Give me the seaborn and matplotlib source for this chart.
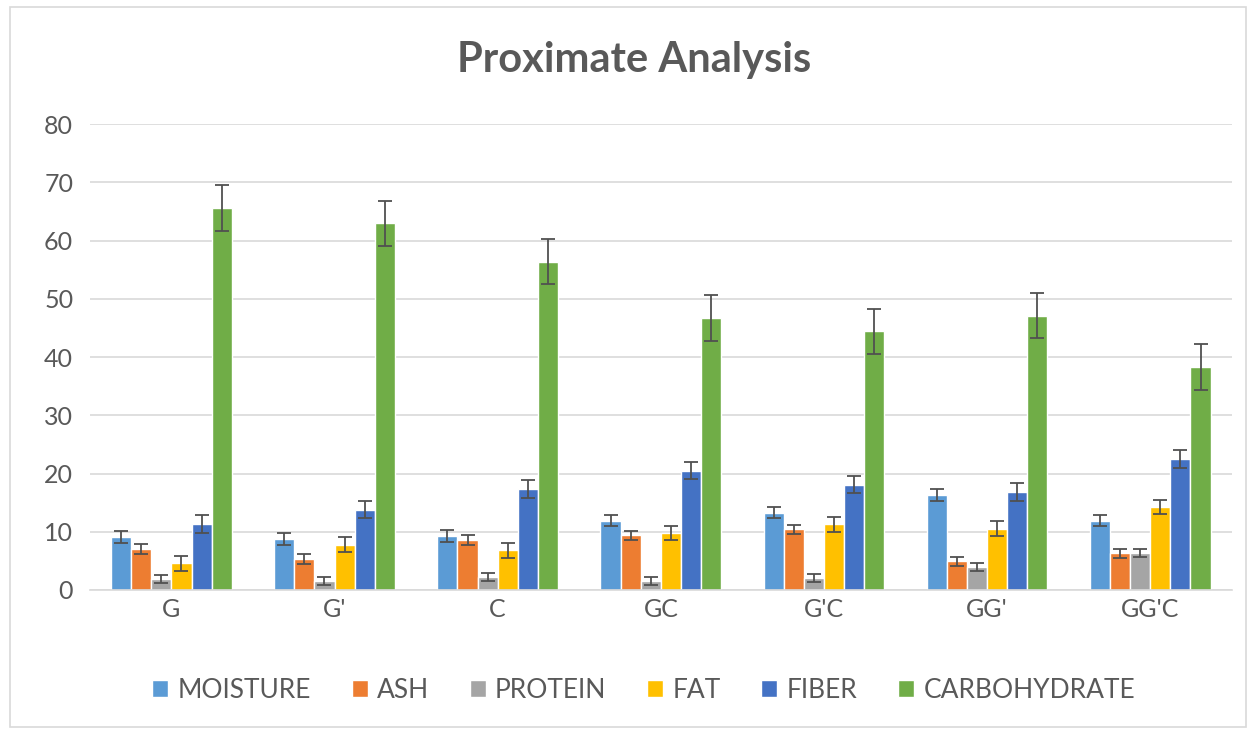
import matplotlib
matplotlib.use("Agg")
import matplotlib.pyplot as plt
import seaborn as sns
import pandas as pd
import numpy as np

categories = ["G", "G'", "C", "GC", "G'C", "GG'", "GG'C"]
series = ["MOISTURE", "ASH", "PROTEIN", "FAT", "FIBER", "CARBOHYDRATE"]
moisture = [9.1, 8.8, 9.3, 11.9, 13.3, 16.3, 11.9]
ash = [7.0, 5.3, 8.6, 9.4, 10.4, 4.9, 6.3]
protein = [1.9, 1.6, 2.2, 1.6, 2.1, 3.9, 6.3]
fat = [4.6, 7.8, 6.8, 9.8, 11.3, 10.5, 14.3]
fiber = [11.3, 13.8, 17.3, 20.5, 18.1, 16.8, 22.5]
carbohydrate = [65.6, 63.0, 56.4, 46.7, 44.4, 47.1, 38.3]
err_moisture = [1.0, 1.0, 1.0, 1.0, 1.0, 1.0, 1.0]
err_ash = [0.9, 0.9, 0.8, 0.8, 0.8, 0.8, 0.8]
err_protein = [0.7, 0.7, 0.7, 0.7, 0.7, 0.7, 0.7]
err_fat = [1.3, 1.3, 1.3, 1.2, 1.3, 1.3, 1.2]
err_fiber = [1.5, 1.5, 1.5, 1.5, 1.5, 1.5, 1.5]
err_carb = [3.9, 3.9, 3.9, 3.9, 3.9, 3.9, 3.9]
colors = ["#5B9BD5", "#ED7D31", "#A5A5A5", "#FFC000", "#4472C4", "#70AD47"]

values = [moisture, ash, protein, fat, fiber, carbohydrate]
errors = [err_moisture, err_ash, err_protein, err_fat, err_fiber, err_carb]

rows = []
for s, vals, errs in zip(series, values, errors):
    for c, v, e in zip(categories, vals, errs):
        rows.append({"cat": c, "series": s, "value": v, "err": e})
df = pd.DataFrame(rows)

sns.set_theme(style="white")
plt.rcParams["font.family"] = ["Lato", "DejaVu Sans"]

fig = plt.figure(figsize=(12.48, 7.31), dpi=100)
ax = fig.add_axes([0.072, 0.193, 0.915, 0.637])

sns.barplot(data=df, x="cat", y="value", hue="series", order=categories,
            hue_order=series, palette=colors, width=0.74, errorbar=None,
            ax=ax, saturation=1, legend=True)

# error bars positioned on the library-drawn bars
for container, s in zip(ax.containers, series):
    sub = df[df.series == s].set_index("cat").loc[categories]
    xs = [p.get_x() + p.get_width() / 2 for p in container.patches]
    hs = [p.get_height() for p in container.patches]
    ax.errorbar(xs, hs, yerr=sub["err"].values, fmt="none", ecolor="#505050",
                elinewidth=1.3, capsize=5, capthick=1.3, zorder=5)

ax.set_ylim(0, 80)
ax.set_yticks(range(0, 81, 10))
ax.set_xlim(-0.5, len(categories) - 0.5)
ax.grid(axis="y", color="#D9D9D9", linewidth=1.2)
ax.set_axisbelow(True)
for side in ["left", "right", "top"]:
    ax.spines[side].set_visible(False)
ax.spines["bottom"].set_color("#D9D9D9")
ax.spines["bottom"].set_linewidth(1.2)
ax.tick_params(axis="both", length=0, labelsize=18, labelcolor="#595959", pad=12)
ax.tick_params(axis="x", pad=6)
ax.set_xlabel("")
ax.set_ylabel("")

leg = ax.legend(loc="center", bbox_to_anchor=(0.485, -0.215), ncol=6,
                frameon=False, fontsize=19, handlelength=0.6, handleheight=0.6,
                handletextpad=0.35, columnspacing=1.55)
for t in leg.get_texts():
    t.set_color("#595959")

fig.text(0.508, 0.918, "Proximate Analysis", ha="center", va="center",
         fontsize=30, fontweight="bold", color="#595959")

# outer chart frame
frame = plt.Rectangle((0.008, 0.005), 0.99, 0.985, transform=fig.transFigure,
                      fill=False, edgecolor="#D9D9D9", linewidth=1.2)
fig.patches.append(frame)

fig.savefig("out.png", dpi=100)
